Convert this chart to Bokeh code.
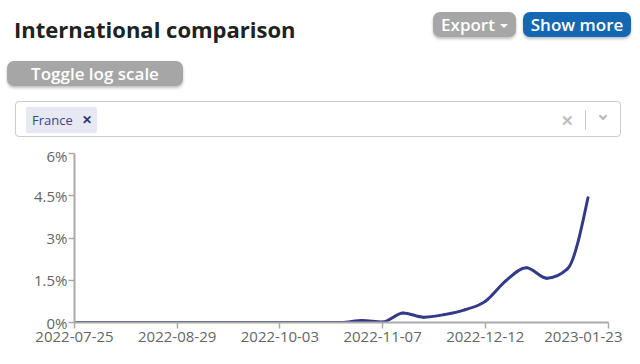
import numpy as np
import pandas as pd
from bokeh.plotting import figure
from bokeh.models import Div, FixedTicker, DatetimeTickFormatter, Range1d, ColumnDataSource
from bokeh.core.properties import value
from bokeh.layouts import column
from bokeh.embed import file_html
from bokeh.resources import INLINE

# ---- data -------------------------------------------------------------
week_dates = pd.date_range("2022-07-25", "2023-01-16", freq="7D").strftime("%Y-%m-%d").tolist()
france_pct = [0, 0, 0, 0, 0, 0, 0, 0, 0, 0, 0, 0, 0, 0,
              0.07, 0.02, 0.34, 0.19, 0.28, 0.45, 0.75, 1.48, 1.94, 1.57, 1.90, 4.43]
x_tick_labels = ["2022-07-25", "2022-08-29", "2022-10-03", "2022-11-07", "2022-12-12", "2023-01-23"]
y_ticks = [0, 1.5, 3, 4.5, 6]
y_tick_labels = ["0%", "1.5%", "3%", "4.5%", "6%"]


def to_ms(ds):
    return (pd.to_datetime(ds).astype("int64") // 10**6).astype(float).to_numpy()


x = to_ms(week_dates)
y = np.array(france_pct, dtype=float)

# monotone-x cubic (as d3.curveMonotoneX) expressed as bezier segments
h = np.diff(x)
s = np.diff(y) / h
t = np.zeros(len(x))
for i in range(1, len(x) - 1):
    s0, s1, h0, h1 = s[i - 1], s[i], h[i - 1], h[i]
    p_ = (s0 * h1 + s1 * h0) / (h0 + h1)
    t[i] = (np.sign(s0) + np.sign(s1)) * min(abs(s0), abs(s1), 0.5 * abs(p_))
t[0] = (3 * s[0] - t[1]) / 2
t[-1] = (3 * s[-1] - t[-2]) / 2

seg = ColumnDataSource(dict(
    x0=x[:-1], y0=y[:-1], x1=x[1:], y1=y[1:],
    cx0=x[:-1] + h / 3, cy0=y[:-1] + t[:-1] * h / 3,
    cx1=x[1:] - h / 3, cy1=y[1:] - t[1:] * h / 3,
))

xt = to_ms(x_tick_labels)

p = figure(width=640, height=219, x_axis_type="datetime",
           x_range=Range1d(xt[0], xt[-1]), y_range=Range1d(0, 6),
           output_backend="svg", toolbar_location=None,
           min_border_left=74, min_border_right=32, min_border_top=8, min_border_bottom=42)
p.outline_line_color = None
p.xgrid.visible = False
p.ygrid.visible = False
p.background_fill_color = "white"
p.border_fill_color = "white"

p.bezier(x0="x0", y0="y0", x1="x1", y1="y1", cx0="cx0", cy0="cy0", cx1="cx1", cy1="cy1",
         source=seg, line_color="#333a89", line_width=3, line_cap="round")

fmt = "%Y-%m-%d"
p.xaxis.ticker = FixedTicker(ticks=list(xt))
p.xaxis.formatter = DatetimeTickFormatter(microseconds=fmt, milliseconds=fmt, seconds=fmt, minsec=fmt,
                                          minutes=fmt, hourmin=fmt, hours=fmt, days=fmt,
                                          months=fmt, years=fmt)
# the last tick label is shifted left to stay inside the chart (drawn as unclipped text below)
p.xaxis.major_label_overrides = {float(xt[-1]): ""}
p.yaxis.ticker = FixedTicker(ticks=y_ticks)
p.yaxis.major_label_overrides = {k: v for k, v in zip(y_ticks, y_tick_labels)}

for ax in (p.xaxis[0], p.yaxis[0]):
    ax.axis_line_color = "#aaaaaa"
    ax.axis_line_width = 2
    ax.major_tick_line_color = "#aaaaaa"
    ax.major_tick_line_width = 1.5
    ax.major_tick_out = 6
    ax.major_tick_in = 0
    ax.minor_tick_line_color = None
    ax.major_label_text_font = "Open Sans"
    ax.major_label_text_font_size = "15px"
    ax.major_label_text_color = "#666666"
p.xaxis.major_label_standoff = 3
p.yaxis.major_label_standoff = 1

last_src = ColumnDataSource(dict(x=[float(xt[-1])], y=[0.0], text=[x_tick_labels[-1]]))
p.text(x="x", y="y", text="text", source=last_src, x_offset=14, y_offset=9,
       text_align="right", text_baseline="top", level="overlay",
       text_font=value("Open Sans"), text_font_size="15px", text_color="#666666")

header_html = """
<div style="position:relative;width:640px;height:145px;font-family:'Open Sans',sans-serif;background:white;">
  <div style="position:absolute;left:14px;top:14px;font-size:22px;font-weight:700;color:#212121;white-space:nowrap;">International comparison</div>
  <div style="position:absolute;left:433px;top:12px;width:83px;height:25px;background:#a6a6a6;border-radius:7px;
       color:white;font-size:17px;font-weight:600;line-height:25px;text-align:center;box-shadow:0 2px 3px rgba(0,0,0,0.25);white-space:nowrap;">Export<span
       style="display:inline-block;width:0;height:0;border-left:4px solid transparent;border-right:4px solid transparent;border-top:4px solid white;vertical-align:middle;margin-left:5px;"></span></div>
  <div style="position:absolute;left:523px;top:12px;width:108px;height:25px;background:#1467b3;border-radius:7px;
       color:white;font-size:17px;font-weight:600;line-height:25px;text-align:center;box-shadow:0 2px 3px rgba(0,0,0,0.25);white-space:nowrap;">Show more</div>
  <div style="position:absolute;left:7px;top:61px;width:176px;height:25px;background:#a6a6a6;border-radius:7px;
       color:white;font-size:17px;font-weight:600;line-height:25px;text-align:center;box-shadow:0 2px 3px rgba(0,0,0,0.25);white-space:nowrap;">Toggle log scale</div>
  <div style="position:absolute;left:15px;top:101px;width:606px;height:36px;border:1px solid #cccccc;border-radius:4px;background:white;">
    <div style="position:absolute;left:10px;top:5px;width:71px;height:26px;background:#e8e8f3;border-radius:2px;"></div>
    <div style="position:absolute;left:16px;top:5px;height:26px;line-height:26px;font-size:13px;color:#3d4585;white-space:nowrap;">France</div>
    <div style="position:absolute;left:66px;top:5px;height:26px;line-height:26px;font-size:12px;font-weight:700;color:#2c3270;">&#x2715;</div>
    <div style="position:absolute;left:545px;top:7px;height:22px;line-height:22px;font-size:15px;font-weight:700;color:#bdbdbd;">&#x2715;</div>
    <div style="position:absolute;left:569px;top:8px;width:1px;height:20px;background:#cccccc;"></div>
    <div style="position:absolute;left:584px;top:11px;width:6px;height:6px;border-right:2px solid #b8b8b8;border-bottom:2px solid #b8b8b8;transform:rotate(45deg);"></div>
  </div>
</div>
"""
header = Div(text=header_html, width=640, height=145, margin=0)
p.margin = 0

layout = column(header, p, spacing=0, margin=0)
open("out.html", "w").write(file_html(layout, INLINE))
